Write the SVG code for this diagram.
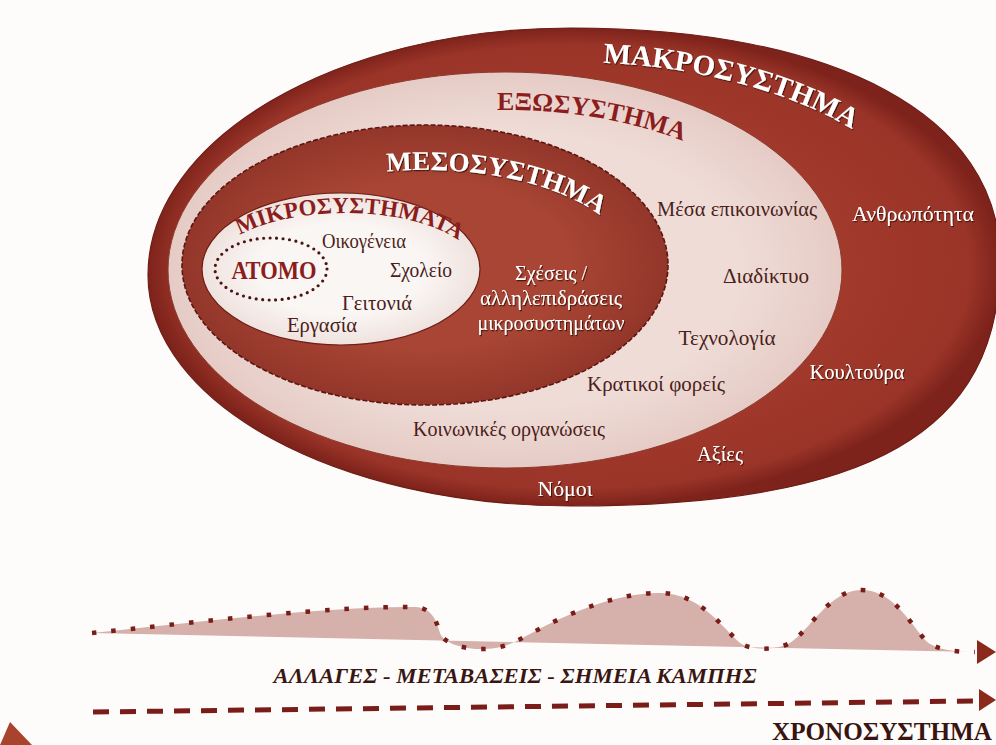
<svg xmlns="http://www.w3.org/2000/svg" width="996" height="745" viewBox="0 0 996 745">
<defs>
<style>
.lbl{font-family:"Liberation Serif","DejaVu Serif",serif;font-size:20px;}
.dk{fill:#4a1e1a}
.wt{fill:#ffffff;filter:url(#sh)}
.ttl{font-family:"Liberation Serif","DejaVu Serif",serif;font-weight:bold;}
.ttlw{fill:#ffffff;filter:url(#sh)}
.ttlr{fill:#8b1e1c}
</style>
<radialGradient id="gMacro" cx="0.5" cy="0.5" r="0.5">
<stop offset="0.55" stop-color="#a43c2d"/><stop offset="0.93" stop-color="#9a3428"/><stop offset="1" stop-color="#7e231b"/>
</radialGradient>
<radialGradient id="gExo" cx="0.5" cy="0.5" r="0.5">
<stop offset="0.7" stop-color="#efdcd7"/><stop offset="1" stop-color="#e6cbc5"/>
</radialGradient>
<radialGradient id="gMeso" cx="0.5" cy="0.5" r="0.5">
<stop offset="0.6" stop-color="#a84534"/><stop offset="1" stop-color="#93362a"/>
</radialGradient>
<radialGradient id="gMicro" cx="0.5" cy="0.5" r="0.5">
<stop offset="0.6" stop-color="#faf6f4"/><stop offset="1" stop-color="#efe2de"/>
</radialGradient>
<filter id="sh" x="-10%" y="-30%" width="120%" height="160%">
<feDropShadow dx="1" dy="1.2" stdDeviation="0.7" flood-color="#3a0a06" flood-opacity="0.85"/>
</filter>
<path id="pMacro" d="M603,62.8 A380,205 0 0 1 951,267"/>
<path id="pExo" d="M497,110 A300,159 0 0 1 805,269"/>
<path id="pMeso" d="M387,171.6 A205,95 0 0 1 630,265"/>
<path id="pMicro" d="M240,235 A133,57 0 0 1 478,270"/>
</defs>

<rect x="0" y="0" width="996" height="745" fill="#fdfcfb"/>

<g id="macrosystem">
<path d="M148,275 C148,139 337,28 571,28 C837,28 1000,116 1000,260 C1000,432 871,506 571,506 C337,506 148,403 148,275 Z" fill="url(#gMacro)" stroke="#6e1d16" stroke-width="1.2"/>
<text class="ttl ttlw" font-size="29"><textPath href="#pMacro">ΜΑΚΡΟΣΥΣΤΗΜΑ</textPath></text>
<text class="lbl wt" x="913" y="221" text-anchor="middle" textLength="122" lengthAdjust="spacingAndGlyphs">Ανθρωπότητα</text>
<text class="lbl wt" x="857" y="379" text-anchor="middle" textLength="95" lengthAdjust="spacingAndGlyphs">Κουλτούρα</text>
<text class="lbl wt" x="720" y="461" text-anchor="middle" textLength="46" lengthAdjust="spacingAndGlyphs">Αξίες</text>
<text class="lbl wt" x="565" y="496" text-anchor="middle" textLength="55" lengthAdjust="spacingAndGlyphs">Νόμοι</text>
</g>

<g id="exosystem">
<ellipse cx="505" cy="270" rx="337" ry="198" fill="url(#gExo)" stroke="#8a3a30" stroke-width="1"/>
<text class="ttl ttlr" font-size="26"><textPath href="#pExo">ΕΞΩΣΥΣΤΗΜΑ</textPath></text>
<text class="lbl dk" x="737" y="216" text-anchor="middle" textLength="160" lengthAdjust="spacingAndGlyphs">Μέσα επικοινωνίας</text>
<text class="lbl dk" x="766" y="283" text-anchor="middle" textLength="86" lengthAdjust="spacingAndGlyphs">Διαδίκτυο</text>
<text class="lbl dk" x="727" y="345" text-anchor="middle" textLength="97" lengthAdjust="spacingAndGlyphs">Τεχνολογία</text>
<text class="lbl dk" x="656" y="391" text-anchor="middle" textLength="138" lengthAdjust="spacingAndGlyphs">Κρατικοί φορείς</text>
<text class="lbl dk" x="509" y="436" text-anchor="middle" textLength="192" lengthAdjust="spacingAndGlyphs">Κοινωνικές οργανώσεις</text>
</g>

<g id="mesosystem">
<ellipse cx="425" cy="265" rx="243" ry="140" fill="url(#gMeso)" stroke="#5e1510" stroke-width="1.6" stroke-dasharray="5 2"/>
<text class="ttl ttlw" font-size="27"><textPath href="#pMeso">ΜΕΣΟΣΥΣΤΗΜΑ</textPath></text>
<text class="lbl wt" x="551" y="280" text-anchor="middle" textLength="72" lengthAdjust="spacingAndGlyphs">Σχέσεις /</text>
<text class="lbl wt" x="551" y="305" text-anchor="middle" textLength="142" lengthAdjust="spacingAndGlyphs">αλληλεπιδράσεις</text>
<text class="lbl wt" x="551" y="330" text-anchor="middle" textLength="147" lengthAdjust="spacingAndGlyphs">μικροσυστημάτων</text>
</g>

<g id="microsystems">
<ellipse cx="341" cy="269" rx="139" ry="76" fill="url(#gMicro)" stroke="#6e1d16" stroke-width="1.2"/>
<text class="ttl ttlr" font-size="23"><textPath href="#pMicro">ΜΙΚΡΟΣΥΣΤΗΜΑΤΑ</textPath></text>
<text class="lbl dk" x="364" y="248" text-anchor="middle" textLength="84" lengthAdjust="spacingAndGlyphs">Οικογένεια</text>
<text class="lbl dk" x="421" y="277" text-anchor="middle" textLength="62" lengthAdjust="spacingAndGlyphs">Σχολείο</text>
<text class="lbl dk" x="377" y="310" text-anchor="middle" textLength="70" lengthAdjust="spacingAndGlyphs">Γειτονιά</text>
<text class="lbl dk" x="322" y="332" text-anchor="middle" textLength="70" lengthAdjust="spacingAndGlyphs">Εργασία</text>
</g>

<g id="atomo">
<ellipse cx="271" cy="269" rx="56" ry="31" fill="none" stroke="#4a1410" stroke-width="3.2" stroke-dasharray="0 6.5" stroke-linecap="round"/>
<text class="ttl ttlr" x="274" y="279" font-size="26" text-anchor="middle" textLength="85" lengthAdjust="spacingAndGlyphs">ΑΤΟΜΟ</text>
</g>

<g id="connectors">
<path d="M92,633 C200,622 330,606 415,607 C432,608 436,620 440,633 C444,645 470,650 485,649 C505,648 515,642 530,634 C570,612 620,592 661,593 C700,594 720,625 740,643 C750,650 775,651 790,643 C810,630 830,590 861,590 C890,590 905,615 925,640 C935,650 955,652 975,652 L92,633 Z" fill="#d6b0ab" stroke="none"/>
<path d="M92,633 C200,622 330,606 415,607 C432,608 436,620 440,633 C444,645 470,650 485,649 C505,648 515,642 530,634 C570,612 620,592 661,593 C700,594 720,625 740,643 C750,650 775,651 790,643 C810,630 830,590 861,590 C890,590 905,615 925,640 C935,650 955,652 975,652" fill="none" stroke="#7a1c18" stroke-width="4.5" stroke-dasharray="4.5 15"/>
<polygon points="977,640 996,652 977,664" fill="#8a2a1c"/>
<line x1="93" y1="712" x2="975" y2="701" stroke="#7a1c18" stroke-width="5" stroke-dasharray="16 11"/>
<polygon points="979,689 996,700 979,711" fill="#8a2a1c"/>
</g>

<g id="timeline-labels">
<text x="515" y="683" font-family="'Liberation Serif','DejaVu Serif',serif" font-weight="bold" font-style="italic" font-size="21" fill="#3a1612" text-anchor="middle" textLength="483" lengthAdjust="spacingAndGlyphs">ΑΛΛΑΓΕΣ - ΜΕΤΑΒΑΣΕΙΣ - ΣΗΜΕΙΑ ΚΑΜΠΗΣ</text>
<text x="882" y="740" font-family="'Liberation Serif','DejaVu Serif',serif" font-weight="bold" font-size="25" fill="#3a1410" text-anchor="middle" textLength="220" lengthAdjust="spacingAndGlyphs">ΧΡΟΝΟΣΥΣΤΗΜΑ</text>
</g>

<polygon points="0,745 10,722 32,745" fill="#a8442e"/>
</svg>
